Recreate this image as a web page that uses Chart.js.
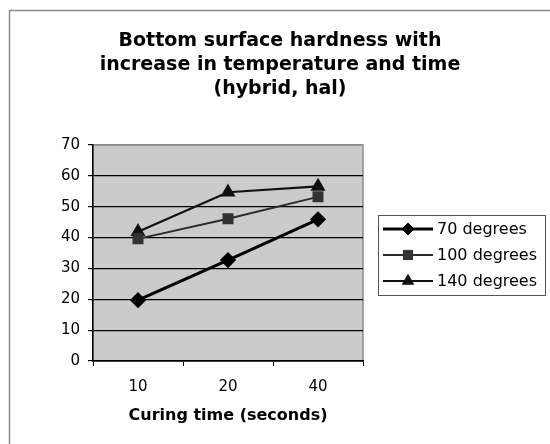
<!DOCTYPE html>
<html>
<head>
<meta charset="utf-8">
<style>
  html, body { margin: 0; padding: 0; background: #ffffff; }
  #wrap { position: relative; width: 550px; height: 444px; }
</style>
<script src="https://cdn.jsdelivr.net/npm/chart.js@4/dist/chart.umd.min.js"></script>
</head>
<body>
<div id="wrap"><canvas id="chart" width="550" height="444"></canvas></div>
<script>
// Curing time categories (seconds)
const curingTimes = ['10', '20', '40'];

// Bottom surface hardness per curing temperature
const hardness70 = [19.7, 32.7, 45.9];
const hardness100 = [39.6, 46.1, 53.2];
const hardness140 = [41.9, 54.7, 56.6];

const seriesLabels = ['70 degrees', '100 degrees', '140 degrees'];

const titleLines = ['Bottom surface hardness with', 'increase in temperature and time', '(hybrid, hal)'];
const xAxisTitle = 'Curing time (seconds)';

const FONT = '"DejaVu Sans", Verdana, sans-serif';

// Outer frame, title block, grey plot area and the boxed legend
const framePlugin = {
  id: 'frame',
  beforeDraw(chart) {
    const { ctx, chartArea: a } = chart;
    ctx.save();
    ctx.fillStyle = '#ffffff';
    ctx.fillRect(0, 0, chart.width, chart.height);
    ctx.strokeStyle = '#8a8a8a';
    ctx.lineWidth = 1.5;
    ctx.strokeRect(9.5, 10.5, 560, 460);

    ctx.fillStyle = '#000000';
    ctx.font = 'bold 19px ' + FONT;
    ctx.textAlign = 'center';
    ctx.textBaseline = 'middle';
    titleLines.forEach((line, i) => ctx.fillText(line, 280, 41 + i * 24));

    ctx.fillStyle = '#cbcbcb';
    ctx.fillRect(a.left, a.top, a.right - a.left, a.bottom - a.top);
    ctx.strokeStyle = '#8c8c8c';
    ctx.lineWidth = 1.5;
    ctx.strokeRect(a.left, a.top, a.right - a.left, a.bottom - a.top);
    ctx.restore();
  },
  afterDraw(chart) {
    const { ctx } = chart;
    const box = { x: 378, y: 215, w: 167, h: 80 };
    ctx.save();
    ctx.strokeStyle = '#555555';
    ctx.lineWidth = 1;
    ctx.strokeRect(box.x + 0.5, box.y + 0.5, box.w, box.h);
    chart.data.datasets.forEach((ds, i) => {
      const cy = box.y + 14 + i * 26;
      ctx.strokeStyle = ds.borderColor;
      ctx.lineWidth = ds.borderWidth;
      ctx.beginPath();
      ctx.moveTo(383, cy);
      ctx.lineTo(433, cy);
      ctx.stroke();
      ctx.fillStyle = ds.pointBackgroundColor;
      ctx.strokeStyle = ds.pointBorderColor;
      ctx.lineWidth = 1;
      Chart.helpers.drawPoint(ctx, { pointStyle: ds.pointStyle, radius: ds.pointRadius, rotation: 0, borderWidth: 1 }, 408, cy);
      ctx.fillStyle = '#000000';
      ctx.font = '16px ' + FONT;
      ctx.textAlign = 'left';
      ctx.textBaseline = 'middle';
      ctx.fillText(ds.label, 437, cy + 1);
    });
    ctx.restore();
  }
};

new Chart(document.getElementById('chart'), {
  type: 'line',
  data: {
    labels: curingTimes,
    datasets: [
      {
        label: seriesLabels[0], data: hardness70,
        borderColor: '#000000', borderWidth: 3,
        pointStyle: 'rectRot', pointRadius: 6,
        pointBackgroundColor: '#000000', pointBorderColor: '#000000'
      },
      {
        label: seriesLabels[1], data: hardness100,
        borderColor: '#2a2a2a', borderWidth: 1.8,
        pointStyle: 'rect', pointRadius: 6.5,
        pointBackgroundColor: '#333333', pointBorderColor: '#333333'
      },
      {
        label: seriesLabels[2], data: hardness140,
        borderColor: '#111111', borderWidth: 2.2,
        pointStyle: 'triangle', pointRadius: 6.5,
        pointBackgroundColor: '#111111', pointBorderColor: '#111111'
      }
    ]
  },
  options: {
    responsive: false,
    animation: false,
    devicePixelRatio: 1,
    layout: { padding: { left: 10, right: 187, top: 145, bottom: 13 } },
    plugins: {
      legend: { display: false },
      tooltip: { enabled: false },
      title: { display: false }
    },
    scales: {
      x: {
        offset: true,
        grid: {
          offset: true, drawOnChartArea: false, drawTicks: true,
          tickLength: 5, tickColor: '#000000', tickWidth: 1
        },
        border: { display: true, color: '#000000', width: 1.5 },
        ticks: { color: '#000000', font: { family: FONT, size: 15 }, padding: 12 },
        title: {
          display: true, text: xAxisTitle, color: '#000000',
          font: { family: FONT, size: 16, weight: 'bold' },
          padding: { top: 4, bottom: 6 }
        },
        afterFit(scale) { scale.height = 70; }
      },
      y: {
        min: 0, max: 70,
        ticks: { stepSize: 10, color: '#000000', font: { family: FONT, size: 15 }, padding: 8 },
        grid: {
          color: (c) => (c.tick && c.tick.value === 70 ? '#8c8c8c' : '#000000'),
          lineWidth: 1.2, tickLength: 5, tickColor: '#000000'
        },
        border: { display: true, color: '#000000', width: 1.5 },
        afterFit(scale) { scale.width = 83; }
      }
    }
  },
  plugins: [framePlugin]
});
</script>
</body>
</html>
